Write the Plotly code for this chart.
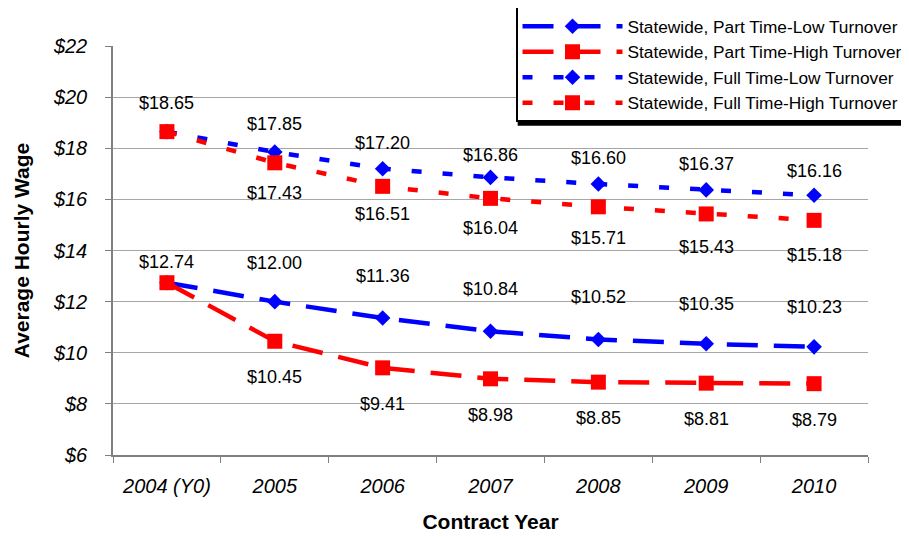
import plotly.graph_objects as go

years = ["2004 (Y0)", "2005", "2006", "2007", "2008", "2009", "2010"]
pt_low = [12.74, 12.00, 11.36, 10.84, 10.52, 10.35, 10.23]
pt_high = [12.74, 10.45, 9.41, 8.98, 8.85, 8.81, 8.79]
ft_low = [18.65, 17.85, 17.20, 16.86, 16.60, 16.37, 16.16]
ft_high = [18.65, 17.43, 16.51, 16.04, 15.71, 15.43, 15.18]
names = ["Statewide, Part Time-Low Turnover", "Statewide, Part Time-High Turnover",
         "Statewide, Full Time-Low Turnover", "Statewide, Full Time-High Turnover"]

FONT = "Liberation Sans, Arial, sans-serif"
BLUE = "#0000FF"
RED = "#FF0000"

fig = go.Figure()
series = [
    (pt_low, names[0], BLUE, "diamond", 12, "31px,16px"),
    (pt_high, names[1], RED, "square", 15, "31px,16px"),
    (ft_low, names[2], BLUE, "diamond", 12, "10px,21px"),
    (ft_high, names[3], RED, "square", 15, "10px,21px"),
]
for vals, nm, col, sym, sz, dash in series:
    fig.add_trace(go.Scatter(
        x=years, y=vals, name=nm, mode="lines+markers",
        line=dict(color=col, width=4.5, dash=dash),
        marker=dict(symbol=sym, size=sz, color=col, line=dict(width=0)),
    ))

# data labels
def add_labels(vals, shifts, skip_first=False):
    for i, v in enumerate(vals):
        if skip_first and i == 0:
            continue
        fig.add_annotation(x=i, y=v, text=f"${v:.2f}", showarrow=False,
                           xref="x", yref="y",
                           yshift=shifts[i] if isinstance(shifts, list) else shifts,
                           font=dict(family=FONT, size=18, color="black"))

add_labels(pt_low, [21, 39, 42, 42, 42, 40, 40])
add_labels(pt_high, -36, skip_first=True)
add_labels(ft_low, [29, 28, 26, 22, 26, 26, 24])
add_labels(ft_high, [0, -30, -28, -30, -31, -33, -35], skip_first=True)

# legend shadow
fig.add_shape(type="rect", xref="paper", yref="paper",
              x0=0.536, x1=1.09, y0=0.805, y1=1.08,
              fillcolor="black", line=dict(width=0), layer="above")

fig.update_layout(
    width=901, height=529,
    margin=dict(l=105, r=41, t=38, b=82, autoexpand=False),
    plot_bgcolor="white", paper_bgcolor="white",
    font=dict(family=FONT, size=17, color="black"),
    showlegend=True,
    legend=dict(
        x=1.053, y=1.0954, xanchor="right", yanchor="top",
        bgcolor="white", bordercolor="black", borderwidth=1.5,
        font=dict(family=FONT, size=17.3, color="black"),
        itemwidth=100, tracegroupgap=0,
    ),
    xaxis=dict(
        type="category", range=[-0.5, 6.5], automargin=False, tickangle=0,
        showline=True, linecolor="#808080", linewidth=1.5,
        ticks="outside", tickson="boundaries", ticklen=6, tickcolor="#808080",
        showgrid=False, ticklabelstandoff=12,
        tickfont=dict(family=FONT, size=20, style="italic"),
        title=dict(text="<b>Contract Year</b>", font=dict(family=FONT, size=21), standoff=19),
    ),
    yaxis=dict(
        range=[6, 22], dtick=2, tickprefix="$", automargin=False,
        showline=True, linecolor="#808080", linewidth=1.5,
        ticks="outside", ticklen=6, tickcolor="#808080",
        showgrid=True, gridcolor="#A6A6A6", gridwidth=1,
        zeroline=False, ticklabelstandoff=14,
        tickfont=dict(family=FONT, size=20, style="italic"),
        title=dict(text="<b>Average Hourly Wage</b>", font=dict(family=FONT, size=21), standoff=18),
    ),
)

fig.write_html("out.html")
